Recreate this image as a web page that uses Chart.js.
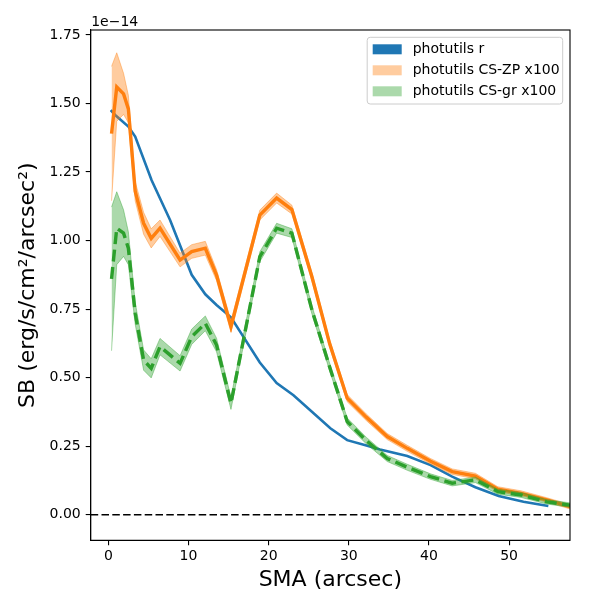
<!DOCTYPE html>
<html>
<head>
<meta charset="utf-8">
<script src="https://cdn.jsdelivr.net/npm/chart.js@4.4.1/dist/chart.umd.min.js"></script>
<style>
  html, body { margin: 0; padding: 0; background: #fff; }
  #wrap { width: 600px; height: 600px; }
</style>
</head>
<body>
<div id="wrap"><canvas id="chart" width="600" height="600"></canvas></div>
<script>
// --- DATA (surface brightness in units of 1e-14 erg/s/cm^2/arcsec^2) ---
const smaR = [0.3, 0.85, 2.5, 3.35, 5.4, 7.7, 10.4, 12.1, 13.5, 15.3, 18.9, 21.0, 23.1, 27.7, 29.8, 32.2, 33.9, 37.3, 40.2, 42.9, 45.8, 48.7, 51.8, 54.9];
const sbR = [1.476, 1.458, 1.416, 1.379, 1.22, 1.075, 0.875, 0.804, 0.765, 0.72, 0.555, 0.48, 0.436, 0.315, 0.272, 0.252, 0.238, 0.214, 0.181, 0.139, 0.100, 0.068, 0.047, 0.032];

const smaCS = [0.4, 1.05, 1.9, 2.5, 3.35, 4.4, 5.35, 6.45, 8.95, 10.4, 12.1, 13.5, 15.3, 18.9, 21.0, 22.9, 25.4, 27.6, 29.8, 32.2, 34.8, 37.3, 40.2, 42.9, 45.8, 48.6, 51.5, 54.7, 57.6];
const sbZP = [1.39, 1.56, 1.535, 1.48, 1.18, 1.063, 1.008, 1.045, 0.929, 0.96, 0.972, 0.874, 0.686, 1.093, 1.155, 1.113, 0.868, 0.625, 0.425, 0.355, 0.285, 0.242, 0.195, 0.157, 0.141, 0.093, 0.078, 0.054, 0.029];
const errZP = [0.245, 0.125, 0.075, 0.05, 0.035, 0.04, 0.035, 0.03, 0.025, 0.025, 0.025, 0.02, 0.02, 0.018, 0.018, 0.016, 0.015, 0.014, 0.013, 0.012, 0.011, 0.011, 0.01, 0.01, 0.01, 0.009, 0.009, 0.008, 0.008];
const sbGR = [0.86, 1.045, 1.027, 0.972, 0.735, 0.564, 0.534, 0.613, 0.552, 0.649, 0.698, 0.619, 0.406, 0.941, 1.045, 1.027, 0.747, 0.54, 0.34, 0.27, 0.205, 0.173, 0.139, 0.115, 0.127, 0.084, 0.072, 0.047, 0.035];
const errGR = [0.262, 0.133, 0.085, 0.06, 0.04, 0.037, 0.035, 0.03, 0.028, 0.028, 0.027, 0.025, 0.022, 0.018, 0.018, 0.016, 0.015, 0.014, 0.013, 0.012, 0.011, 0.011, 0.01, 0.01, 0.01, 0.009, 0.009, 0.008, 0.008];

const xTicks = [0, 10, 20, 30, 40, 50];
const yTicks = [0, 0.25, 0.5, 0.75, 1.0, 1.25, 1.5, 1.75];
const legendLabels = ['photutils r', 'photutils CS-ZP x100', 'photutils CS-gr x100'];

// --- STYLE ---
const C = {
    blue: '#1f77b4',
    orange: '#ff7f0e',
    green: '#2ca02c',
    orangeBand: 'rgba(255,127,14,0.4)',
    greenBand: 'rgba(44,160,44,0.4)',
};
const FONT = 'DejaVu Sans';

const pts = (xs, ys) => xs.map((x, i) => ({ x, y: ys[i] }));
const shift = (ys, es, s) => ys.map((y, i) => y + s * es[i]);

// reference line, frame, offset text and legend box
const decorations = {
    id: 'decorations',
    beforeDatasetsDraw(chart) {
        const { ctx, chartArea: a, scales: { y } } = chart;
        const y0 = y.getPixelForValue(0);
        ctx.save();
        ctx.beginPath();
        ctx.rect(a.left, a.top, a.right - a.left, a.bottom - a.top);
        ctx.clip();
        ctx.strokeStyle = '#000';
        ctx.lineWidth = 1.6;
        ctx.setLineDash([7.5, 3.3]);
        ctx.beginPath();
        ctx.moveTo(a.left, y0);
        ctx.lineTo(a.right, y0);
        ctx.stroke();
        ctx.restore();
    },
    afterDraw(chart) {
        const { ctx, chartArea: a } = chart;
        ctx.save();
        ctx.strokeStyle = '#000';
        ctx.lineWidth = 1.1;
        ctx.strokeRect(a.left, a.top, a.right - a.left, a.bottom - a.top);

        ctx.fillStyle = '#000';
        ctx.font = `14px "${FONT}"`;
        ctx.textBaseline = 'alphabetic';
        ctx.textAlign = 'left';
        ctx.fillText('1e\u221214', a.left + 0.5, a.top - 4);

        // legend
        const bw = 195.5, bh = 66.7;
        const bx = a.right - 7.3 - bw, by = a.top + 7.3;
        ctx.beginPath();
        ctx.roundRect(bx, by, bw, bh, 3);
        ctx.fillStyle = 'rgba(255,255,255,0.8)';
        ctx.fill();
        ctx.strokeStyle = '#cccccc';
        ctx.lineWidth = 1;
        ctx.stroke();

        const swatches = [C.blue, C.orangeBand, C.greenBand];
        ctx.textBaseline = 'middle';
        legendLabels.forEach((label, i) => {
            const cy = by + 12 + i * 21;
            ctx.fillStyle = '#fff';
            ctx.fillRect(bx + 5.5, cy - 5, 29, 10);
            ctx.fillStyle = swatches[i];
            ctx.fillRect(bx + 5.5, cy - 5, 29, 10);
            ctx.fillStyle = '#000';
            ctx.fillText(label, bx + 45.5, cy);
        });
        ctx.restore();
    }
};

const lineDefaults = { pointRadius: 0, tension: 0, clip: 0, fill: false };

const datasets = [
    { ...lineDefaults, label: legendLabels[0], data: pts(smaR, sbR), borderColor: C.blue, borderWidth: 2.6, order: 6 },
    { ...lineDefaults, data: pts(smaCS, shift(sbZP, errZP, -1)), borderColor: C.orangeBand, borderWidth: 1, order: 5 },
    { ...lineDefaults, data: pts(smaCS, shift(sbZP, errZP, 1)), borderColor: C.orangeBand, borderWidth: 1, backgroundColor: C.orangeBand, fill: '-1', order: 5 },
    { ...lineDefaults, label: legendLabels[1], data: pts(smaCS, sbZP), borderColor: C.orange, borderWidth: 3.4, order: 4 },
    { ...lineDefaults, data: pts(smaCS, shift(sbGR, errGR, -1)), borderColor: C.greenBand, borderWidth: 1, order: 3 },
    { ...lineDefaults, data: pts(smaCS, shift(sbGR, errGR, 1)), borderColor: C.greenBand, borderWidth: 1, backgroundColor: C.greenBand, fill: '-1', order: 3 },
    { ...lineDefaults, label: legendLabels[2], data: pts(smaCS, sbGR), borderColor: C.green, borderWidth: 3.4, borderDash: [12, 5.5], order: 2 },
];

const tickFont = { family: FONT, size: 14 };
const titleFont = { family: FONT, size: 22 };

new Chart(document.getElementById('chart'), {
    type: 'line',
    data: { datasets },
    options: {
        responsive: false,
        animation: false,
        layout: { padding: { top: 30, right: 30, left: 0, bottom: 0 } },
        plugins: { legend: { display: false }, tooltip: { enabled: false } },
        scales: {
            x: {
                type: 'linear',
                min: -2.2,
                max: 57.6,
                afterBuildTicks: s => { s.ticks = xTicks.map(v => ({ value: v })); },
                afterFit: s => { s.height = 59.7; },
                ticks: { font: tickFont, color: '#000', padding: 3, maxRotation: 0, autoSkip: false, callback: v => String(v) },
                grid: { drawOnChartArea: false, tickLength: 5, color: '#000', lineWidth: 1.1 },
                border: { color: '#000', width: 1.1 },
                title: { display: true, text: 'SMA (arcsec)', font: titleFont, color: '#000', padding: { top: 0, bottom: 7 } }
            },
            y: {
                type: 'linear',
                min: -0.0934,
                max: 1.768,
                afterBuildTicks: s => { s.ticks = yTicks.map(v => ({ value: v })); },
                afterFit: s => { s.width = 90.7; },
                ticks: { font: tickFont, color: '#000', padding: 5, autoSkip: false, callback: v => v.toFixed(2) },
                grid: { drawOnChartArea: false, tickLength: 5, color: '#000', lineWidth: 1.1 },
                border: { color: '#000', width: 1.1 },
                title: { display: true, text: 'SB (erg/s/cm\u00b2/arcsec\u00b2)', font: titleFont, color: '#000', padding: { top: 15, bottom: 0 } }
            }
        }
    },
    plugins: [decorations]
});
</script>
</body>
</html>
